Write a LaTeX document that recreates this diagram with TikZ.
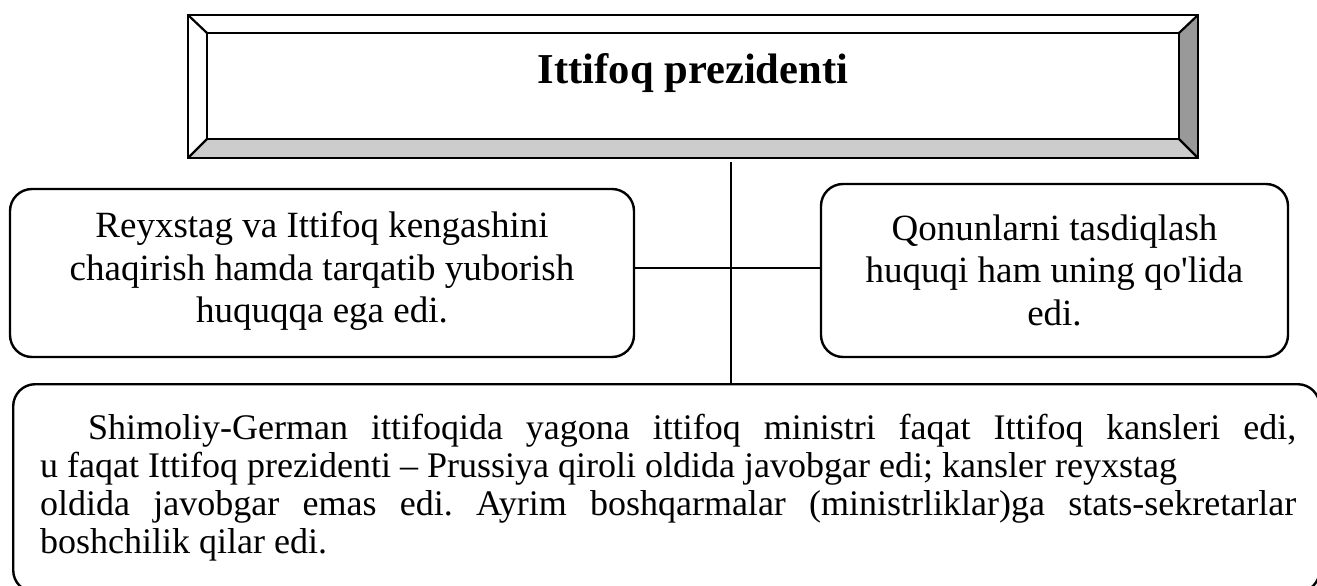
\documentclass[tikz,border=0pt]{standalone}
\usepackage{fontspec}
\setmainfont{Liberation Serif}
\usetikzlibrary{calc}
\definecolor{bevlight}{HTML}{CCCCCC}
\definecolor{bevdark}{HTML}{999999}
\frenchspacing
\begin{document}
\begin{tikzpicture}[x=1pt,y=-1pt,
  boxline/.style={line width=2.2pt},
  roundbox/.style={draw, line width=2.4pt, rounded corners=22pt, inner sep=0pt},
  link/.style={line width=1.3pt},
  boxtext/.style={align=center, font=\fontsize{37}{42.5}\selectfont, inner sep=0pt},
  desctextstyle/.style={anchor=north west, inner sep=0pt, text width=1256pt, align=justify, font=\fontsize{36}{38}\selectfont}]
\useasboundingbox (0,0) rectangle (1317,586);
% top bevelled box
\node[minimum width=1010pt, minimum height=143pt, inner sep=0pt] (pres) at (693,86.5) {};
\coordinate (inNW) at ([shift={(19,18)}]pres.north west);
\coordinate (inNE) at ([shift={(-19,18)}]pres.north east);
\coordinate (inSE) at ([shift={(-19,-19)}]pres.south east);
\coordinate (inSW) at ([shift={(19,-19)}]pres.south west);
\fill[bevlight] (pres.south west) -- (pres.south east) -- (inSE) -- (inSW) -- cycle;
\fill[bevdark] (pres.north east) -- (pres.south east) -- (inSE) -- (inNE) -- cycle;
\draw[boxline] (pres.north west) rectangle (pres.south east);
\draw[boxline] (inNW) rectangle (inSE);
\draw[boxline] (pres.north west) -- (inNW);
\draw[boxline] (pres.north east) -- (inNE);
\draw[boxline] (pres.south east) -- (inSE);
\draw[boxline] (pres.south west) -- (inSW);
\node[font=\fontsize{42.6}{50}\selectfont\bfseries, anchor=base, inner sep=0pt] (title) at (693,83) {Ittifoq prezidenti};
% side boxes
\node[roundbox, minimum width=624pt, minimum height=168pt] (left) at (322,273) {};
\node[roundbox, minimum width=467pt, minimum height=173pt] (right) at (1054.5,270.5) {};
\node[boxtext] (lefttext) at (322,271) {Reyxstag va Ittifoq kengashini\\chaqirish hamda tarqatib yuborish\\huquqqa ega edi.};
\node[boxtext] (righttext) at (1054.5,270) {Qonunlarni tasdiqlash\\huquqi ham uning qo\textquotesingle lida\\edi.};
% bottom box
\node[roundbox, minimum width=1306.5pt, minimum height=208pt, anchor=north west] (desc) at (12,383) {};
\node[desctextstyle] (desctext) at (40,414) {\tolerance=9999\hspace*{48pt}Shimoliy-German ittifoqida yagona ittifoq ministri faqat Ittifoq kansleri edi,\linebreak u faqat Ittifoq prezidenti – Prussiya qiroli oldida javobgar edi; kansler reyxstag\newline oldida javobgar emas edi. Ayrim boshqarmalar (ministrliklar)ga stats-sekretarlar\linebreak boshchilik qilar edi.};
% connectors
\coordinate (vtop) at (731,162);
\coordinate (hj) at (731,268);
\draw[link] (vtop) -- (vtop |- desc.north);
\draw[link] (left.east |- hj) -- (right.west |- hj);
\end{tikzpicture}
\end{document}
